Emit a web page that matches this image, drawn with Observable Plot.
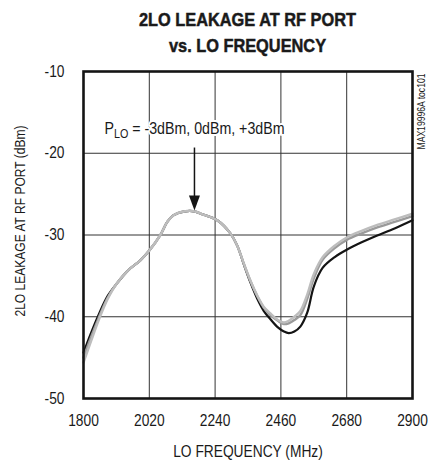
<!DOCTYPE html>
<html><head><meta charset="utf-8">
<script src="https://cdn.jsdelivr.net/npm/d3@7"></script>
<script src="https://cdn.jsdelivr.net/npm/@observablehq/plot@0.6"></script>
<style>
body{margin:0;background:#fff;}
#wrap{position:relative;width:428px;height:462px;overflow:hidden;}
#title{position:absolute;left:40px;width:415px;top:7px;text-align:center;font:bold 19px/26px "Liberation Sans",Arial,sans-serif;color:#1a1a1a;-webkit-text-stroke:0.5px #1a1a1a;transform:scaleX(0.86);transform-origin:207.5px 0;}
#chart{position:absolute;left:0;top:0;}
</style></head><body>
<div id="wrap"><div id="chart"></div><div id="title">2LO LEAKAGE AT RF PORT<br>vs. LO FREQUENCY</div></div>
<script>
// LO frequency (MHz)
const freq = [1800, 1825, 1850, 1880, 1910, 1950, 1990, 2020, 2057, 2080, 2100, 2140, 2170, 2200, 2247, 2291, 2314, 2336, 2358, 2381, 2403, 2425, 2450, 2470, 2486, 2505, 2525, 2548, 2570, 2600, 2640, 2680, 2730, 2780, 2840, 2900];
// 2LO leakage (dBm)
const leakBlack = [-44.4, -42.0, -39.8, -37.5, -36.0, -34.3, -33.1, -31.9, -30.0, -28.4, -27.6, -27.1, -27.1, -27.5, -28.2, -29.8, -31.3, -33.6, -35.8, -37.8, -39.3, -40.3, -41.3, -41.8, -42.0, -41.8, -41.2, -39.5, -36.3, -34.0, -32.7, -31.8, -30.9, -30.1, -29.2, -28.2];
const leakMid   = [-45.0, -42.5, -40.2, -37.7, -36.0, -34.3, -33.1, -31.9, -30.0, -28.4, -27.6, -27.1, -27.1, -27.5, -28.2, -29.8, -31.3, -33.5, -35.6, -37.5, -38.9, -39.8, -40.5, -40.9, -40.8, -40.4, -39.8, -37.8, -35.3, -33.0, -31.6, -30.6, -29.8, -29.1, -28.4, -27.7];
const leakLight = [-45.6, -43.0, -40.5, -37.9, -36.0, -34.3, -33.1, -31.9, -30.0, -28.4, -27.6, -27.1, -27.1, -27.5, -28.2, -29.8, -31.3, -33.5, -35.6, -37.4, -38.8, -39.6, -40.4, -40.7, -40.5, -40.0, -39.3, -37.3, -34.8, -32.7, -31.3, -30.3, -29.5, -28.8, -28.1, -27.4];
const xTicks = [1800, 2020, 2240, 2460, 2680, 2900];
const yTicks = [-50, -40, -30, -20, -10];
const annotText = ["PLO = -3dBm, 0dBm, +3dBm"];
const annotPos = [{f: 2171, v: -17.0}];
const arrowSeg = [{f: 2171, v1: -19.3, v2: -26.0, tip: -27.0}];
const watermark = ["MAX19996A toc101"];

const rows = (vals) => freq.map((f, i) => ({f, v: vals[i]}));

const tri = {draw(ctx) { ctx.moveTo(0, 0); ctx.lineTo(-5.5, -15); ctx.lineTo(5.5, -15); ctx.closePath(); }};

const chart = Plot.plot({
  width: 428, height: 462,
  marginLeft: 83, marginRight: 16, marginTop: 71, marginBottom: 64,
  style: {fontFamily: '"Liberation Sans",Arial,sans-serif', fontSize: "16px", color: "#1a1a1a", background: "transparent"},
  x: {domain: [1800, 2900]},
  y: {domain: [-50, -10]},
  marks: [
    Plot.gridX(xTicks, {stroke: "#333", strokeOpacity: 1, strokeWidth: 1}),
    Plot.gridY(yTicks, {stroke: "#333", strokeOpacity: 1, strokeWidth: 1}),
    Plot.line(rows(leakBlack), {x: "f", y: "v", stroke: "#141414", strokeWidth: 2.2, curve: "catmull-rom"}),
    Plot.line(rows(leakMid), {x: "f", y: "v", stroke: "#9a9a9a", strokeWidth: 2.4, curve: "catmull-rom"}),
    Plot.line(rows(leakLight), {x: "f", y: "v", stroke: "#bdbdbd", strokeWidth: 2.4, curve: "catmull-rom"}),
    Plot.link(arrowSeg, {x1: "f", x2: "f", y1: "v1", y2: "v2", stroke: "#141414", strokeWidth: 1.5}),
    Plot.dot(arrowSeg, {x: "f", y: "tip", symbol: tri, fill: "#141414", stroke: null, r: 5}),
    Plot.text(annotPos, {x: "f", y: "v", text: (d, i) => annotText[i], fontSize: 16.5, textAnchor: "middle", fill: "#1a1a1a", stroke: "white", strokeWidth: 4}),
    Plot.frame({stroke: "#141414", strokeWidth: 2.6}),
    Plot.axisX(xTicks, {tickSize: 0, tickPadding: 16, fontSize: 16, label: null, tickFormat: d => String(d)}),
    Plot.axisY(yTicks, {tickSize: 0, tickPadding: 19, fontSize: 16, label: null, tickFormat: d => String(d)}),
    Plot.text(["LO FREQUENCY (MHz)"], {frameAnchor: "bottom", dy: 58, text: d => d, fontSize: 16}),
    Plot.text(["2LO LEAKAGE AT RF PORT (dBm)"], {frameAnchor: "left", textAnchor: "middle", lineAnchor: "middle", dx: -63, dy: -14, rotate: -90, text: d => d, fontSize: 14}),
    Plot.text(watermark, {frameAnchor: "top-right", dx: 5, dy: 2, rotate: -90, textAnchor: "end", text: d => d, fontSize: 10})
  ]
});
document.getElementById("chart").appendChild(chart);

const ns = "http://www.w3.org/2000/svg";
// subscript "LO" in the annotation
chart.querySelectorAll("text").forEach(t => {
  if (t.textContent === annotText[0]) {
    const s = t.textContent;
    t.textContent = "";
    const a = document.createElementNS(ns, "tspan"); a.textContent = s.slice(0, 1);
    const b = document.createElementNS(ns, "tspan"); b.textContent = s.slice(1, 3); b.setAttribute("dy", "4"); b.setAttribute("font-size", "12.5");
    const c = document.createElementNS(ns, "tspan"); c.textContent = s.slice(3); c.setAttribute("dy", "-4");
    t.append(a, b, c);
  }
});
// condensed look for all chart texts
chart.querySelectorAll("text").forEach(t => {
  const len = t.getComputedTextLength();
  if (len > 0) {
    t.setAttribute("textLength", (len * 0.86).toFixed(2));
    t.setAttribute("lengthAdjust", "spacingAndGlyphs");
  }
});
</script>
</body></html>
